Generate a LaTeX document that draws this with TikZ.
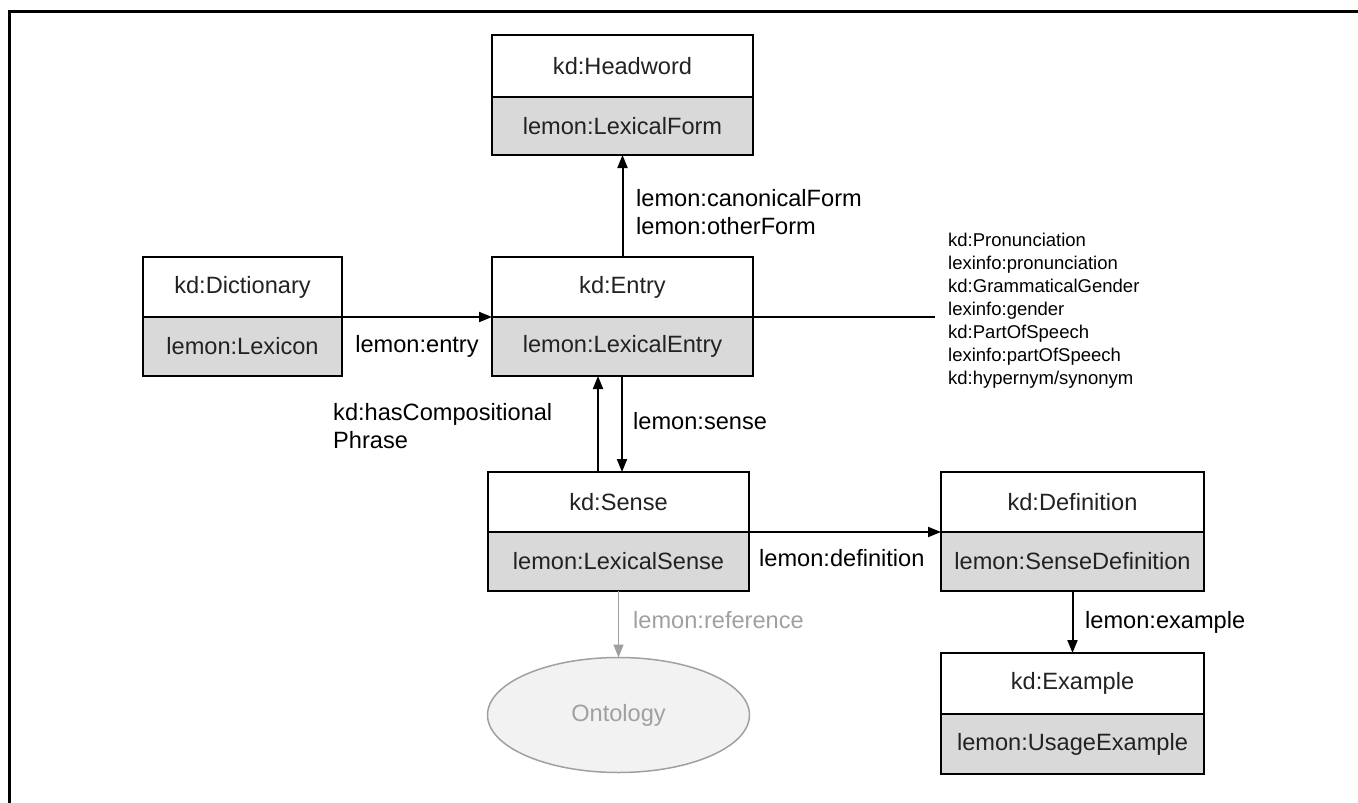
\documentclass[tikz,border=0pt]{standalone}
\usepackage{fontspec}
\setmainfont{Liberation Sans}
\usetikzlibrary{arrows.meta,shapes.geometric}
\definecolor{boxgray}{HTML}{D9D9D9}
\definecolor{txt}{HTML}{222222}
\definecolor{refgray}{HTML}{A0A0A0}
\definecolor{ontofill}{HTML}{F2F2F2}
\newcommand{\bigfnt}{\fontsize{23.6}{28}\selectfont}
\newcommand{\smallfnt}{\fontsize{18.5}{23}\selectfont}
\begin{document}
\begin{tikzpicture}[x=1pt,y=-1pt,
  upper/.style={draw=black, line width=2pt, fill=white, inner sep=0pt, outer sep=0pt, anchor=north west, font=\bigfnt, text=txt},
  lower/.style={draw=black, line width=2pt, fill=boxgray, inner sep=0pt, outer sep=0pt, anchor=north west, font=\bigfnt, text=txt},
  wide/.style={minimum width=261pt},
  lbl/.style={inner sep=0pt, anchor=west, font=\bigfnt, text=black, align=left},
  arr/.style={line width=2pt, -{Triangle[length=13pt,width=10pt]}},
  conn/.style={line width=2pt}
]
\useasboundingbox (0,0) rectangle (1358,803);
% outer frame
\draw[line width=3pt] (9,803) -- (9,11) -- (1358,11);

% boxes
\node[upper, wide, minimum height=62pt] (headT) at (492,35) {kd:Headword};
\node[lower, wide, minimum height=58pt] (headB) at (headT.south west) {lemon:LexicalForm};

\node[upper, minimum width=199pt, minimum height=60pt] (dictT) at (143,257) {kd:Dictionary};
\node[lower, minimum width=199pt, minimum height=59pt] (dictB) at (dictT.south west) {lemon:Lexicon};

\node[upper, wide, minimum height=60pt] (entryT) at (492,257) {kd:Entry};
\node[lower, wide, minimum height=59pt] (entryB) at (entryT.south west) {lemon:LexicalEntry};

\node[upper, wide, minimum height=60pt] (senseT) at (488,472) {kd:Sense};
\node[lower, wide, minimum height=59pt] (senseB) at (senseT.south west) {lemon:LexicalSense};

\node[upper, minimum width=263pt, minimum height=60pt] (defT) at (941,472) {kd:Definition};
\node[lower, minimum width=263pt, minimum height=59pt] (defB) at (defT.south west) {lemon:SenseDefinition};

\node[upper, minimum width=263pt, minimum height=61pt] (exT) at (941,653) {kd:Example};
\node[lower, minimum width=263pt, minimum height=60pt] (exB) at (exT.south west) {lemon:UsageExample};

\node[ellipse, draw=refgray, fill=ontofill, line width=1.5pt, minimum width=262pt, minimum height=115pt, inner sep=0pt, outer sep=0pt, font=\bigfnt, text=refgray] (onto) at (618.5,715) {Ontology};

% helper coordinates
\coordinate (ux) at (598,0);
\coordinate (dx) at (622,0);
\coordinate (extEnd) at (935,0);

% connectors
\draw[arr] (entryT.north) -- (headB.south);
\draw[arr] (dictT.south east) -- (entryT.south west);
\draw[conn] (entryT.south east) -- (entryT.south east -| extEnd);
\draw[arr] (senseT.north -| ux) -- (entryB.south -| ux);
\draw[arr] (entryB.south -| dx) -- (senseT.north -| dx);
\draw[arr] (senseT.south east) -- (defT.south west);
\draw[arr] (defB.south) -- (exT.north);
\draw[line width=1.5pt, draw=refgray, -{Triangle[length=13pt,width=10pt]}, refgray] (senseB.south) -- (onto.north);

% labels
\node[lbl] (lCanon) at (636,212) {lemon:canonicalForm\\lemon:otherForm};
\node[lbl, anchor=center] (lEntry) at (417,346) {lemon:entry};
\node[lbl] (lComp) at (333,426.5) {kd:hasCompositional\\Phrase};
\node[lbl] (lSense) at (633,421) {lemon:sense};
\node[lbl] (lDef) at (759,558) {lemon:definition};
\node[lbl, text=refgray] (lRef) at (633,620) {lemon:reference};
\node[lbl] (lEx) at (1085,622) {lemon:example};
\node[lbl, font=\smallfnt] (lList) at (948,311) {kd:Pronunciation\\lexinfo:pronunciation\\kd:GrammaticalGender\\lexinfo:gender\\kd:PartOfSpeech\\lexinfo:partOfSpeech\\kd:hypernym/synonym};
\end{tikzpicture}
\end{document}
